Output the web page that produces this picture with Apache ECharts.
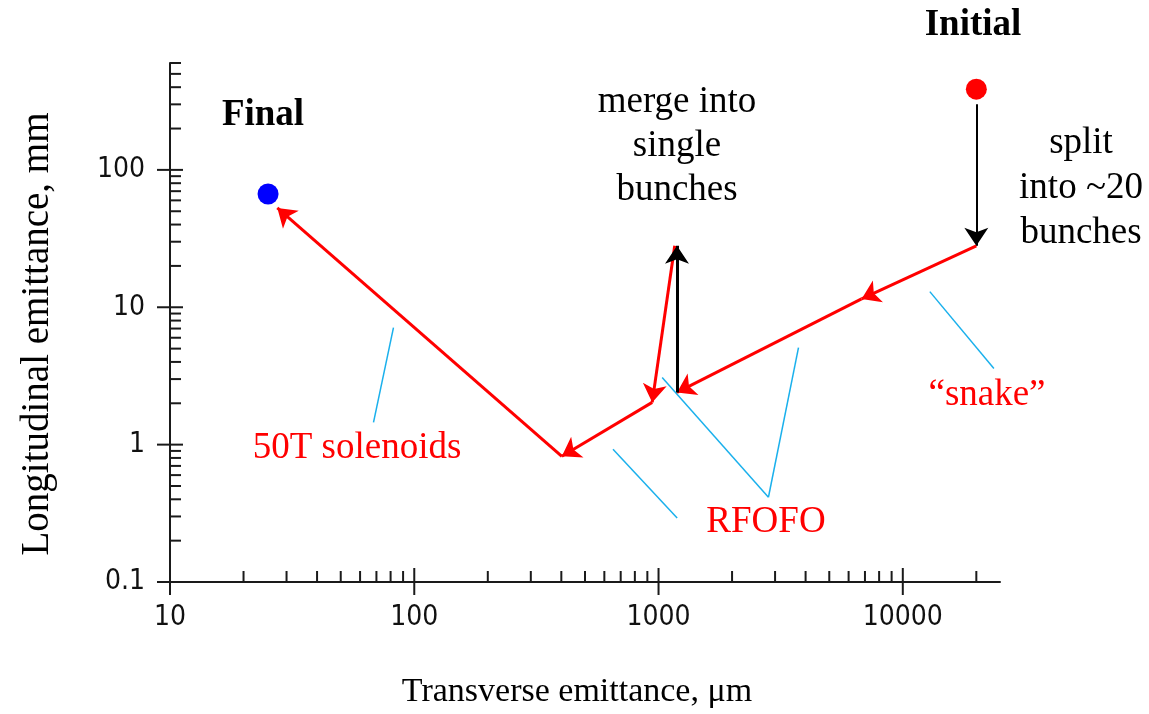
<!DOCTYPE html>
<html>
<head>
<meta charset="utf-8">
<script src="https://cdn.jsdelivr.net/npm/echarts@6/dist/echarts.min.js"></script>
<style>
html, body { margin: 0; padding: 0; background: #ffffff; }
#chart { width: 1149px; height: 714px; }
</style>
</head>
<body>
<div id="chart"></div>
<script>
// ---------------- data (x: transverse emittance, um; y: longitudinal emittance, mm) ----------------
const xMajorTicks = [10, 100, 1000, 10000];
const xTickLabels = ['10', '100', '1000', '10000'];
const xMinorTicks = [20, 30, 40, 50, 60, 70, 80, 90,
                     200, 300, 400, 500, 600, 700, 800, 900,
                     2000, 3000, 4000, 5000, 6000, 7000, 8000, 9000, 20000];
const yMajorTicks = [0.1, 1, 10, 100];
const yTickLabels = ['0.1', '1', '10', '100'];
const yMinorTicks = [0.2, 0.3, 0.4, 0.5, 0.6, 0.7, 0.8, 0.9,
                     2, 3, 4, 5, 6, 7, 8, 9,
                     20, 30, 40, 50, 60, 70, 80, 90,
                     200, 300, 400, 500, 600];
const xMin = 10, xMax = 25000, yMin = 0.1, yMax = 600;

const initialPoint = [20000, 387];
const finalPoint = [25.2, 66.8];
// black arrows: split into ~20 bunches, merge into single bunches
const splitArrow = [[20000, 300], [20000, 28]];
const mergeArrow = [[1190, 2.4], [1190, 28]];
// red cooling path segments (each drawn with an arrow head at its end)
const snakeSegments = [
  [[20000, 28], [6780, 11.5]],
  [[6780, 11.5], [1190, 2.4]]
];
const rfofoSegments = [
  [[1165, 28], [942, 2.03]],
  [[942, 2.03], [402, 0.822]]
];
const solenoidSegments = [
  [[402, 0.822], [27.5, 52.9]]
];
// light-blue leader lines from labels to path segments
const leaderLines = [
  [[82.2, 7.11], [68.1, 1.45]],
  [[651, 0.925], [1192, 0.292]],
  [[1035, 3.08], [2818, 0.414]],
  [[2818, 0.414], [3741, 5.09]],
  [[12900, 13.0], [23600, 3.58]]
];

// ---------------- chart ----------------
const chart = echarts.init(document.getElementById('chart'));
const AXIS_COLOR = '#1a1a1a';
const SERIF = '"Liberation Serif", "Times New Roman", serif';
const NARROW = '"Liberation Sans Narrow", "DejaVu Sans Condensed", sans-serif';

function labelFor(ticks, labels) {
  return function (v) {
    const i = ticks.findIndex(t => Math.abs(t - v) / t < 1e-6);
    return i >= 0 ? labels[i] : '';
  };
}

function tickSeries(values, axis, major) {
  return {
    type: 'custom',
    coordinateSystem: 'cartesian2d',
    clip: false,
    silent: true,
    z: 5,
    data: values.map(v => axis === 'x' ? [v, yMin] : [xMin, v]),
    renderItem: function (params, api) {
      const p = api.coord([api.value(0), api.value(1)]);
      let shape;
      if (axis === 'x') {
        shape = major ? { x1: p[0], y1: p[1] + 13, x2: p[0], y2: p[1] - 14 }
                      : { x1: p[0], y1: p[1], x2: p[0], y2: p[1] - 11 };
      } else {
        shape = major ? { x1: p[0] - 13, y1: p[1], x2: p[0] + 13, y2: p[1] }
                      : { x1: p[0], y1: p[1], x2: p[0] + 11, y2: p[1] };
      }
      return { type: 'line', shape: shape, style: { stroke: AXIS_COLOR, lineWidth: 2 } };
    }
  };
}

function arrowSeries(segments, color, width) {
  return {
    type: 'lines',
    coordinateSystem: 'cartesian2d',
    polyline: false,
    silent: true,
    z: 4,
    symbol: ['none', 'arrow'],
    symbolSize: [12, 18],
    lineStyle: { color: color, width: width, opacity: 1 },
    data: segments.map(s => ({ coords: s }))
  };
}

const option = {
  backgroundColor: '#ffffff',
  animation: false,
  grid: { left: 170, right: 149, top: 63, bottom: 132 },
  xAxis: {
    type: 'log',
    logBase: 10,
    min: xMin,
    max: xMax,
    name: 'Transverse emittance, \u03bcm',
    nameLocation: 'middle',
    nameGap: 93,
    nameTextStyle: { fontFamily: SERIF, fontSize: 34, color: '#000', padding: [0, 16, 0, 0] },
    axisLine: { lineStyle: { color: AXIS_COLOR, width: 2 } },
    axisTick: { show: false },
    splitLine: { show: false },
    axisLabel: {
      margin: 22,
      fontFamily: NARROW,
      fontSize: 28,
      color: '#111',
      showMaxLabel: false,
      formatter: labelFor(xMajorTicks, xTickLabels)
    }
  },
  yAxis: {
    type: 'log',
    logBase: 10,
    min: yMin,
    max: yMax,
    axisLine: { lineStyle: { color: AXIS_COLOR, width: 2 } },
    axisTick: { show: false },
    splitLine: { show: false },
    axisLabel: {
      margin: 25,
      fontFamily: NARROW,
      fontSize: 28,
      color: '#111',
      showMaxLabel: false,
      formatter: labelFor(yMajorTicks, yTickLabels)
    }
  },
  graphic: [
    { type: 'text', x: 38, y: 334, rotation: Math.PI / 2, silent: true,
      style: { text: 'Longitudinal emittance, mm', fontFamily: SERIF, fontSize: 39, fill: '#000',
               align: 'center', verticalAlign: 'middle' } },
    { type: 'text', x: 263, y: 115, silent: true,
      style: { text: 'Final', fontFamily: SERIF, fontWeight: 'bold', fontSize: 37, fill: '#000',
               align: 'center', verticalAlign: 'middle' } },
    { type: 'text', x: 973, y: 25, silent: true,
      style: { text: 'Initial', fontFamily: SERIF, fontWeight: 'bold', fontSize: 37, fill: '#000',
               align: 'center', verticalAlign: 'middle' } },
    { type: 'text', x: 677, y: 146, silent: true,
      style: { text: 'merge into\nsingle\nbunches', fontFamily: SERIF, fontSize: 37, lineHeight: 44,
               fill: '#000', align: 'center', verticalAlign: 'middle' } },
    { type: 'text', x: 1081, y: 188, silent: true,
      style: { text: 'split\ninto ~20\nbunches', fontFamily: SERIF, fontSize: 37, lineHeight: 45,
               fill: '#000', align: 'center', verticalAlign: 'middle' } },
    { type: 'text', x: 357, y: 448, silent: true,
      style: { text: '50T solenoids', fontFamily: SERIF, fontSize: 37, fill: '#ff0000',
               align: 'center', verticalAlign: 'middle' } },
    { type: 'text', x: 766, y: 522, silent: true,
      style: { text: 'RFOFO', fontFamily: SERIF, fontSize: 37, fill: '#ff0000',
               align: 'center', verticalAlign: 'middle' } },
    { type: 'text', x: 987, y: 395, silent: true,
      style: { text: '\u201csnake\u201d', fontFamily: SERIF, fontSize: 37, fill: '#ff0000',
               align: 'center', verticalAlign: 'middle' } }
  ],
  series: [
    tickSeries(xMinorTicks, 'x', false),
    tickSeries(xMajorTicks, 'x', true),
    tickSeries(yMinorTicks, 'y', false),
    tickSeries(yMajorTicks, 'y', true),
    {
      type: 'lines', coordinateSystem: 'cartesian2d', silent: true, z: 3,
      symbol: ['none', 'none'],
      lineStyle: { color: '#1ab0ec', width: 1.5, opacity: 1 },
      data: leaderLines.map(s => ({ coords: s }))
    },
    arrowSeries(snakeSegments, '#ff0000', 3),
    arrowSeries(rfofoSegments, '#ff0000', 3),
    arrowSeries(solenoidSegments, '#ff0000', 3),
    arrowSeries([splitArrow], '#000000', 2),
    arrowSeries([mergeArrow], '#000000', 3),
    {
      type: 'scatter', silent: true, z: 6,
      symbolSize: 21,
      itemStyle: { opacity: 1 },
      data: [{ value: initialPoint, itemStyle: { color: '#ff0000', opacity: 1 } },
             { value: finalPoint, itemStyle: { color: '#0000ff', opacity: 1 } }]
    }
  ]
};
chart.setOption(option);
</script>
</body>
</html>
